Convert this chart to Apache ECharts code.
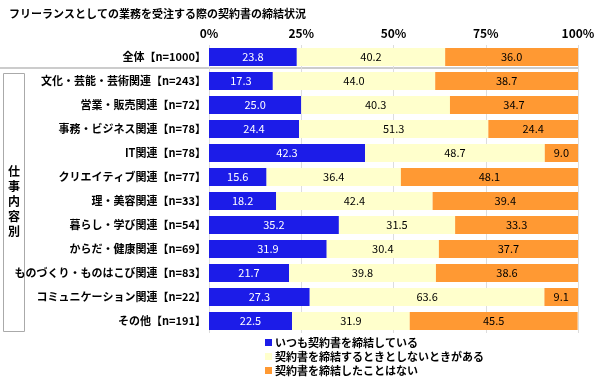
<!DOCTYPE html>
<html><head><meta charset="utf-8">
<script src="https://cdn.jsdelivr.net/npm/echarts@6/dist/echarts.min.js"></script>
<style>html,body{margin:0;padding:0;background:#fff}#c{width:600px;height:383px}</style>
</head><body><div id="c"></div>
<script>
const title = 'フリーランスとしての業務を受注する際の契約書の締結状況';
const categories = ['全体【n=1000】','文化・芸能・芸術関連【n=243】','営業・販売関連【n=72】','事務・ビジネス関連【n=78】','IT関連【n=78】','クリエイティブ関連【n=77】','理・美容関連【n=33】','暮らし・学び関連【n=54】','からだ・健康関連【n=69】','ものづくり・ものはこび関連【n=83】','コミュニケーション関連【n=22】','その他【n=191】'];
const seriesNames = ['いつも契約書を締結している','契約書を締結するときとしないときがある','契約書を締結したことはない'];
const always = [23.8,17.3,25.0,24.4,42.3,15.6,18.2,35.2,31.9,21.7,27.3,22.5];
const sometimes = [40.2,44.0,40.3,51.3,48.7,36.4,42.4,31.5,30.4,39.8,63.6,31.9];
const never = [36.0,38.7,34.7,24.4,9.0,48.1,39.4,33.3,37.7,38.6,9.1,45.5];
const xTicks = [0,25,50,75,100];
const groupLabel = '仕事内容別';

const FONT = '"Noto Sans CJK JP", sans-serif';
const colors = ['#1C1CE8','#FFFFCC','#FF9933'];
const chart = echarts.init(document.getElementById('c'));
const mk = (name, data, i) => ({
  name, type:'bar', stack:'a', data, barCategoryGap:'25%',
  itemStyle:{color:colors[i]},
  label:{show:true, position:'inside', formatter:p=>p.value.toFixed(1), color:i===0?'#fff':'#000', fontSize:11, fontFamily:FONT},
  silent:true
});
chart.setOption({
  animation:false,
  title:{text:title, left:4, top:3, textStyle:{fontSize:11, fontWeight:'bold', fontFamily:FONT, color:'#000'}},
  grid:{left:209, right:22, top:45, bottom:50},
  xAxis:{type:'value', position:'top', min:xTicks[0], max:xTicks[xTicks.length-1], interval:25,
    axisLabel:{formatter:'{value}%', fontSize:12, fontWeight:'bold', color:'#000', fontFamily:FONT, margin:6},
    axisLine:{show:false}, axisTick:{show:false},
    splitLine:{show:true, lineStyle:{color:'#dddddd'}}},
  yAxis:{type:'category', inverse:true, data:categories,
    axisLabel:{fontSize:11, fontWeight:'bold', color:'#000', fontFamily:FONT, margin:3},
    axisLine:{show:false}, axisTick:{show:false}},
  legend:{orient:'vertical', left:265, top:337, height:46, padding:0, itemWidth:7, itemHeight:7, itemGap:3,
    icon:'rect', textStyle:{fontSize:11, fontWeight:'bold', color:'#000', fontFamily:FONT, padding:[0,0,0,-2]},
    data:seriesNames},
  series:[mk(seriesNames[0],always,0), mk(seriesNames[1],sometimes,1), mk(seriesNames[2],never,2)],
  graphic:[
    {type:'line', shape:{x1:0,y1:68,x2:578,y2:68}, style:{stroke:'#bbbbbb', lineWidth:1.5}},
    {type:'rect', shape:{x:3.5,y:73.5,width:21,height:258}, style:{fill:'none', stroke:'#aaaaaa', lineWidth:1}},
    {type:'text', x:14, y:201, style:{text:groupLabel.split('').join('\n'), fontSize:12, fontWeight:'bold', fontFamily:FONT, fill:'#000', align:'center', verticalAlign:'middle', lineHeight:15}}
  ]
});
</script></body></html>
